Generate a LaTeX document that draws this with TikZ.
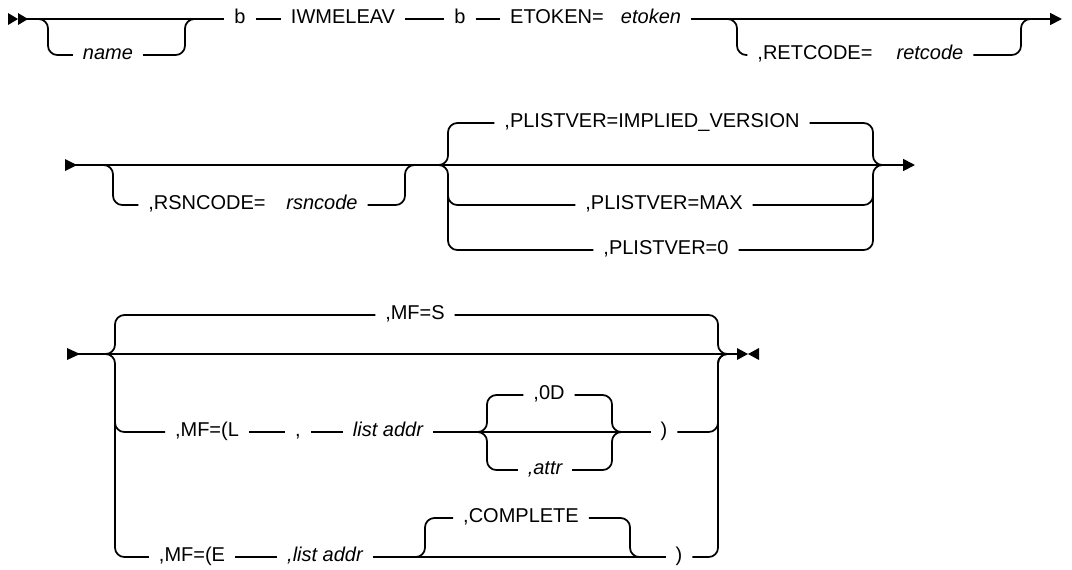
\documentclass[tikz,border=0pt]{standalone}
\usepackage{fontspec}
\setmainfont{Liberation Sans}
\usetikzlibrary{arrows.meta}
\begin{document}
\begin{tikzpicture}[x=0.75pt,y=-0.75pt,
  rail/.style={line width=1.3pt},
  rc/.style={rounded corners=7pt},
  kw/.style={inner sep=0pt,outer xsep=7.5pt,text height=0.72em,text depth=0pt,font=\fontsize{15pt}{18pt}\selectfont},
  var/.style={kw,font=\fontsize{15pt}{18pt}\selectfont\itshape},
  tip/.style={-{Triangle[length=9pt,width=9pt]}}]
\useasboundingbox (0,0) rectangle (1072,569);

% ---------------- Row 1 ----------------
\fill (8,13) -- (18,19) -- (8,25) -- cycle;
\fill (18,13) -- (28,19) -- (18,25) -- cycle;
\coordinate (s1) at (26,19);
\coordinate (n1) at (38,19);
\coordinate (n2) at (195,19);
\node[var] (name) at (108,55) {name};
\node[kw] (b1) at (240,19) {b};
\node[kw] (iwm) at (343,19) {IWMELEAV};
\node[kw] (b2) at (460,19) {b};
\node[kw] (etok) at (557,19) {ETOKEN=};
\node[var] (etokv) at (651,19) {etoken};
\coordinate (r1e) at (1062,19);
\coordinate (rc1) at (727,19);
\coordinate (rc2) at (1030,19);
\node[kw] (ret) at (815,55) {,RETCODE=};
\node[var] (retv) at (930,55) {retcode};

\draw[rail] (s1) -- (b1);
\draw[rail,rc] (n1) -| (48,55) -- (name);
\draw[rail,rc] (name) -- (185,55) |- (n2);
\draw[rail] (b1) -- (iwm);
\draw[rail] (iwm) -- (b2);
\draw[rail] (b2) -- (etok);
\draw[rail,tip] (etokv) -- (r1e);
\draw[rail,rc] (rc1) -| (737,55) -- (ret);
\draw[rail,rc] (retv) -- (1021,55) |- (rc2);

% ---------------- Row 2 ----------------
\fill (65,159) -- (77,165) -- (65,171) -- cycle;
\coordinate (r2s) at (75,165);
\coordinate (r2e) at (915,165);
\coordinate (rs1) at (105,165);
\coordinate (rs2) at (415,165);
\coordinate (pl) at (440,165);
\coordinate (pr) at (881,165);
\node[kw] (rsn) at (207,205) {,RSNCODE=};
\node[var] (rsnv) at (322,205) {rsncode};
\node[kw] (impl) at (652,123) {,PLISTVER=IMPLIED\_VERSION};
\node[kw] (pmax) at (664,205) {,PLISTVER=MAX};
\node[kw] (pzero) at (666,250) {,PLISTVER=0};

\draw[rail,tip] (r2s) -- (r2e);
\draw[rail,rc] (rs1) -| (113,205) -- (rsn);
\draw[rail,rc] (rsnv) -- (405,205) |- (rs2);
\draw[rail,rc] (pl) -| (448,123) -- (impl);
\draw[rail,rc] (pl) -| (448,250) -- (pzero);
\draw[rail,rc] (448,195) |- (pmax);
\draw[rail,rc] (impl.east) -| (873,165) -- (pr);
\draw[rail,rc] (pzero.east) -| (873,165) -- (pr);
\draw[rail,rc] (pmax.east) -| (873,195);

% ---------------- Row 3 ----------------
\fill (67,348) -- (80,354) -- (67,360) -- cycle;
\coordinate (r3s) at (78,354);
\coordinate (tm) at (737,354);
\coordinate (ml) at (107,354);
\coordinate (mr) at (726,354);
\node[kw] (mfs) at (415,315) {,MF=S};
\node[kw] (mfl) at (207,432) {,MF=(L};
\node[kw] (cm1) at (298,432) {,};
\node[var] (la) at (388,432) {list addr};
\node[kw] (od) at (549,395) {,0D};
\node[var] (attr) at (545,470) {,attr};
\node[kw] (rp1) at (664,432) {)};
\node[kw] (mfe) at (192,557) {,MF=(E};
\node[var] (la2) at (325,557) {,list addr};
\node[kw] (cmp) at (521,518) {,COMPLETE};
\node[kw] (rp2) at (679,557) {)};
\coordinate (sl) at (479,432);
\coordinate (sr) at (620,432);
\coordinate (cl) at (417,557);
\coordinate (cr) at (638,557);

\draw[rail] (r3s) -- (tm);
\fill (737,348) -- (748,354) -- (737,360) -- cycle;
\fill (759,348) -- (748,354) -- (759,360) -- cycle;
\draw[rail,rc] (ml) -| (115,315) -- (mfs);
\draw[rail,rc] (ml) -| (115,557) -- (mfe);
\draw[rail,rc] (115,420) |- (mfl);
\draw[rail,rc] (mfs.east) -| (718,354) -- (mr);
\draw[rail] (mfl) -- (cm1);
\draw[rail] (cm1) -- (la);
\draw[rail] (la) -- (rp1);
\draw[rail,rc] (sl) -| (487,395) -- (od);
\draw[rail,rc] (sl) -| (487,470) -- (attr);
\draw[rail,rc] (od.east) -| (612,432) -- (sr);
\draw[rail,rc] (attr.east) -| (612,432) -- (sr);
\draw[rail,rc] (rp1.east) -| (718,354) -- (mr);
\draw[rail] (mfe) -- (la2);
\draw[rail] (la2) -- (rp2);
\draw[rail,rc] (cl) -| (425,518) -- (cmp);
\draw[rail,rc] (cmp.east) -| (630,557) -- (cr);
\draw[rail,rc] (rp2.east) -| (718,354) -- (mr);
\end{tikzpicture}
\end{document}
